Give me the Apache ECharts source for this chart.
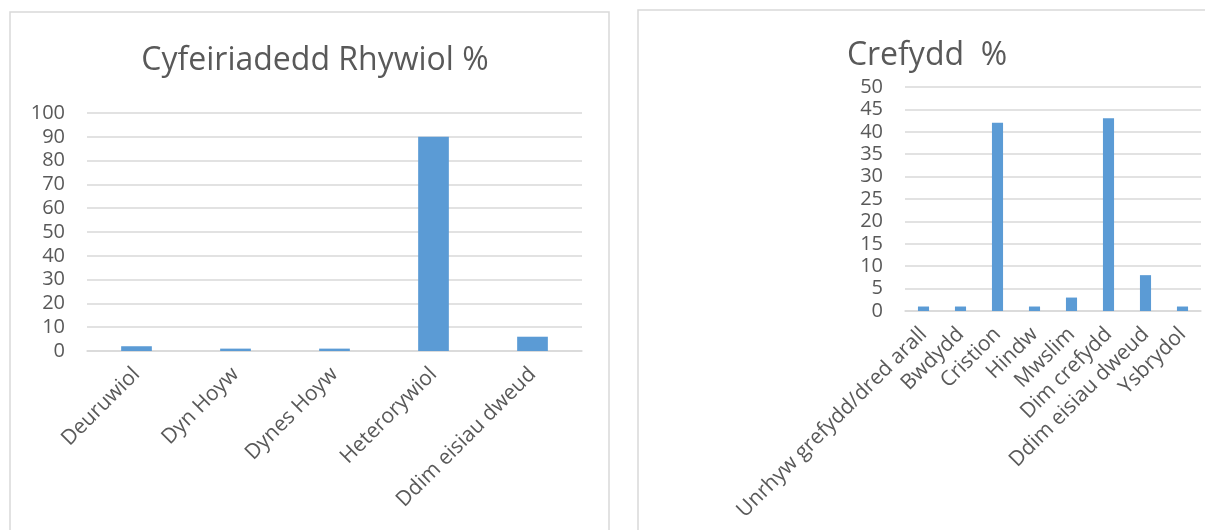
<!DOCTYPE html>
<html>
<head>
<meta charset="utf-8">
<script src="https://cdn.jsdelivr.net/npm/echarts@6/dist/echarts.min.js"></script>
<style>
html,body{margin:0;padding:0;background:#fff;}
#c{width:1205px;height:530px;}
</style>
</head>
<body>
<div id="c"></div>
<script>
// Left chart: sexual orientation
const titleLeft = 'Cyfeiriadedd Rhywiol %';
const catsLeft = ['Deuruwiol', 'Dyn Hoyw', 'Dynes Hoyw', 'Heterorywiol', 'Ddim eisiau dweud'];
const valsLeft = [2, 1, 1, 90, 6];

// Right chart: religion
const titleRight = 'Crefydd  %';
const catsRight = ['Unrhyw grefydd/dred arall', 'Bwdydd', 'Cristion', 'Hindw', 'Mwslim', 'Dim crefydd', 'Ddim eisiau dweud', 'Ysbrydol'];
const valsRight = [1, 1, 42, 1, 3, 43, 8, 1];

const FONT = 'Open Sans';
const TXT = '#595959';
const GRID = '#d9d9d9';
const BAR = '#5B9BD5';

const chart = echarts.init(document.getElementById('c'), null, {renderer: 'canvas'});

function yAxis(idx, max, interval) {
  return {
    type: 'value', gridIndex: idx, min: 0, max: max, interval: interval,
    axisLine: {show: false}, axisTick: {show: false},
    axisLabel: {color: TXT, fontFamily: FONT, fontSize: 20, margin: 22},
    splitLine: {lineStyle: {color: GRID, width: 1.5}}
  };
}
function xAxis(idx, cats) {
  return {
    type: 'category', gridIndex: idx, data: cats,
    axisLine: {lineStyle: {color: GRID, width: 1.5}},
    axisTick: {show: false},
    axisLabel: {color: TXT, fontFamily: FONT, fontSize: 21, rotate: 45, interval: 0, margin: 20}
  };
}

chart.setOption({
  animation: false,
  graphic: [
    {type: 'rect', shape: {x: 10, y: 12, width: 599, height: 540}, style: {fill: 'none', stroke: GRID, lineWidth: 1.5}, silent: true},
    {type: 'rect', shape: {x: 638, y: 10, width: 600, height: 540}, style: {fill: 'none', stroke: GRID, lineWidth: 1.5}, silent: true}
  ],
  title: [
    {text: titleLeft, left: 310, top: 40, textAlign: 'center',
     textStyle: {fontFamily: FONT, fontSize: 32, fontWeight: 'normal', color: TXT}},
    {text: titleRight, left: 922, top: 35, textAlign: 'center',
     textStyle: {fontFamily: FONT, fontSize: 32, fontWeight: 'normal', color: TXT}}
  ],
  grid: [
    {left: 87, top: 113, width: 495, height: 238},
    {left: 905, top: 87, width: 296, height: 224}
  ],
  xAxis: [xAxis(0, catsLeft), xAxis(1, catsRight)],
  yAxis: [yAxis(0, 100, 10), yAxis(1, 50, 5)],
  series: [
    {type: 'bar', xAxisIndex: 0, yAxisIndex: 0, data: valsLeft, barWidth: '31%', itemStyle: {color: BAR}},
    {type: 'bar', xAxisIndex: 1, yAxisIndex: 1, data: valsRight, barWidth: '30%', itemStyle: {color: BAR}}
  ]
});
</script>
</body>
</html>
